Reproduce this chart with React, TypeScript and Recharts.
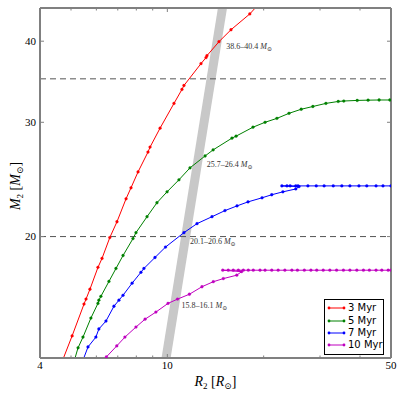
import React from 'react';
import {
  LineChart,
  Line,
  XAxis,
  YAxis,
  ReferenceLine,
  ReferenceDot,
  Legend,
  Label,
} from 'recharts';

// axis ticks
const xTicks = [4, 5, 6, 7, 8, 9, 10, 20, 30, 40, 50];
const xTickLabels = [4, 10, 50];
const yTicks = [20, 30, 40];
const dashedLevels = [20, 35];

// 3 Myr
const red3R = [4.62, 5.04, 5.49, 5.57, 5.73, 6.07, 6.25, 6.61, 6.96, 7.43, 7.7, 8.1, 8.7, 8.83, 9.49, 10.49, 11.11, 11.27, 12.74, 13.21, 13.3, 14.5, 15.81, 18.1, 19.6];
const red3M = [12.6, 14.06, 15.74, 16.02, 16.59, 17.93, 18.51, 19.93, 21.08, 22.87, 23.78, 25.16, 26.99, 27.47, 29.38, 32.08, 33.71, 34.18, 36.94, 37.74, 38.0, 39.93, 41.66, 44.06, 46.0];

// 5 Myr
const green5R = [5.1, 5.26, 5.45, 5.77, 6.07, 6.11, 6.2, 6.57, 6.91, 7.27, 7.81, 7.98, 8.64, 9.28, 9.98, 10.87, 11.77, 13.12, 13.9, 15.92, 16.4, 18.52, 20.2, 22.0, 24.0, 26.2, 28.5, 31.3, 34.2, 35.6, 39.2, 42.4, 45.9, 49.6];
const green5M = [12.8, 13.48, 14.0, 14.98, 15.78, 15.96, 16.18, 17.06, 17.86, 18.7, 19.86, 20.28, 21.46, 22.55, 23.44, 24.46, 25.52, 26.62, 27.2, 28.36, 28.56, 29.48, 30.0, 30.42, 30.97, 31.42, 31.73, 32.08, 32.3, 32.35, 32.42, 32.45, 32.47, 32.47];

// 7 Myr
const blue7R = [5.45, 5.65, 5.98, 6.11, 6.43, 6.81, 7.06, 7.27, 7.76, 8.27, 8.45, 9.15, 9.87, 11.27, 12.38, 13.79, 15.14, 16.51, 17.87, 19.77, 21.2, 22.97, 25.2, 25.8, 22.8, 23.65, 24.2, 25.2, 25.6, 27.5, 29.2, 30.9, 33.0, 35.1, 37.2, 39.7, 42.0, 44.9, 47.2, 50.0];
const blue7M = [12.9, 13.52, 14.0, 14.41, 14.82, 15.62, 15.96, 16.24, 16.95, 17.62, 17.86, 18.57, 19.27, 20.28, 20.94, 21.46, 21.93, 22.3, 22.62, 22.95, 23.2, 23.44, 23.68, 23.88, 23.94, 23.94, 23.94, 23.94, 23.94, 23.94, 23.94, 23.94, 23.94, 23.94, 23.94, 23.94, 23.94, 23.94, 23.94, 23.94];

// 10 Myr
const mag10R = [6.45, 6.95, 7.37, 7.98, 8.52, 9.21, 10.05, 10.76, 11.72, 12.83, 13.92, 14.96, 16.48, 17.06, 14.9, 15.5, 16.07, 16.67, 17.28, 17.91, 18.56, 19.48, 20.2, 21.2, 22.2, 23.3, 24.5, 25.5, 26.8, 28.1, 29.3, 30.7, 32.2, 33.8, 35.5, 37.2, 39.1, 41.0, 42.8, 44.9, 46.8, 49.0, 50.0];
const mag10M = [13.05, 13.57, 14.0, 14.51, 14.92, 15.3, 15.78, 16.02, 16.3, 16.74, 17.04, 17.23, 17.44, 17.66, 17.75, 17.75, 17.75, 17.75, 17.75, 17.75, 17.75, 17.75, 17.75, 17.75, 17.75, 17.75, 17.75, 17.75, 17.75, 17.75, 17.75, 17.75, 17.75, 17.75, 17.75, 17.75, 17.75, 17.75, 17.75, 17.75, 17.75, 17.75, 17.75];

// grey band
const bandR = [9.91, 14.87];
const bandM = [13, 45];

// mass range notes
const noteR = [15.3, 13.3, 11.77, 11.09];
const noteM = [38.9, 25.56, 19.44, 15.54];
const noteText = ['38.6–40.4', '25.7–26.4', '20.1–20.6', '15.8–16.1'];

const zip = (rs: number[], ms: number[]) => rs.map((r, i) => ({ r, m: ms[i] }));

const series = [
  { name: '3 Myr', color: '#ff0000', data: zip(red3R, red3M) },
  { name: '5 Myr', color: '#008000', data: zip(green5R, green5M) },
  { name: '7 Myr', color: '#0000ff', data: zip(blue7R, blue7M) },
  { name: '10 Myr', color: '#bf00bf', data: zip(mag10R, mag10M) },
];

const FRAME = '#808080';
const serif = '"Liberation Serif", "DejaVu Serif", serif';

const BottomTick = ({ x, y, payload }: any) => {
  const major = xTickLabels.includes(payload.value);
  return (
    <g>
      <line x1={x} x2={x} y1={y} y2={y - (major ? 4 : 2.5)} stroke={FRAME} />
      {major && (
        <text x={x} y={y + 11} textAnchor="middle" fontFamily={serif} fontSize={11} fill="#000">
          {payload.value}
        </text>
      )}
    </g>
  );
};

// top axis box is 1px tall, so its edge sits at y + 1
const TopTick = ({ x, y, payload }: any) => {
  const major = xTickLabels.includes(payload.value);
  return <line x1={x} x2={x} y1={y} y2={y + (major ? 4 : 2.5)} stroke={FRAME} />;
};

const LeftTick = ({ x, y, payload }: any) => (
  <g>
    <line x1={x} x2={x + 4} y1={y} y2={y} stroke={FRAME} />
    <text x={x - 4} y={y + 3.5} textAnchor="end" fontFamily={serif} fontSize={11} fill="#000">
      {payload.value}
    </text>
  </g>
);

const RightTick = ({ x, y }: any) => <line x1={x} x2={x - 4} y1={y} y2={y} stroke={FRAME} />;

const XTitle = ({ viewBox }: any) => (
  <text x={viewBox.x + viewBox.width / 2} y={viewBox.y + 28} textAnchor="middle" fontFamily={serif} fontSize={14} fill="#000">
    <tspan fontStyle="italic">R</tspan>
    <tspan fontSize={9} dy={3}>2</tspan>
    <tspan dy={-3}> [</tspan>
    <tspan fontStyle="italic">R</tspan>
    <tspan fontSize={9} dy={3}>⊙</tspan>
    <tspan dy={-3}>]</tspan>
  </text>
);

const YTitle = () => (
  <text x={20} y={186} transform="rotate(-90, 20, 186)" textAnchor="middle" fontFamily={serif} fontSize={14} fill="#000">
    <tspan fontStyle="italic">M</tspan>
    <tspan fontSize={9} dy={3}>2</tspan>
    <tspan dy={-3}> [</tspan>
    <tspan fontStyle="italic">M</tspan>
    <tspan fontSize={9} dy={3}>⊙</tspan>
    <tspan dy={-3}>]</tspan>
  </text>
);

const noteLabel = (text: string) => ({ viewBox }: any) => (
  <text x={viewBox.x} y={viewBox.y} fontFamily={serif} fontSize={8} fill="#333">
    <tspan>{text} </tspan>
    <tspan fontStyle="italic">M</tspan>
    <tspan fontSize={6} dy={2}>⊙</tspan>
  </text>
);

const LegendBox = () => (
  <div
    style={{
      width: 60,
      height: 56,
      boxSizing: 'border-box',
      border: '1px solid #000',
      background: '#fff',
      padding: '2px 0 0 0',
      fontFamily: '"DejaVu Sans", sans-serif',
      fontSize: 10,
      color: '#000',
    }}
  >
    {series.map((s) => (
      <div key={s.name} style={{ display: 'flex', alignItems: 'center', height: 12.4 }}>
        <svg width={22} height={8} style={{ flex: 'none' }}>
          <line x1={4} x2={19} y1={4} y2={4} stroke={s.color} />
          <circle cx={4} cy={4} r={1.4} fill={s.color} />
          <circle cx={19} cy={4} r={1.4} fill={s.color} />
        </svg>
        <span style={{ marginLeft: 1, lineHeight: '12px' }}>{s.name}</span>
      </div>
    ))}
  </div>
);

export default function App() {
  return (
    <div style={{ position: 'absolute', left: 0, top: 0, width: 399, height: 399, background: '#fff', overflow: 'hidden' }}>
      <LineChart width={399} height={399} margin={{ top: 7, right: 7, left: 0, bottom: 0 }}>
        <XAxis
          xAxisId="b"
          dataKey="r"
          type="number"
          scale="log"
          domain={[4, 50]}
          allowDataOverflow
          ticks={xTicks}
          interval={0}
          height={41}
          tickSize={0}
          tickMargin={0}
          tickLine={false}
          tick={(p: any) => <BottomTick {...p} />}
          axisLine={{ stroke: FRAME, strokeWidth: 2 }}
        >
          <Label content={XTitle} />
        </XAxis>
        <XAxis
          xAxisId="t"
          orientation="top"
          dataKey="r"
          type="number"
          scale="log"
          domain={[4, 50]}
          allowDataOverflow
          ticks={xTicks}
          interval={0}
          height={1}
          tickSize={0}
          tickMargin={0}
          tickLine={false}
          tick={(p: any) => <TopTick {...p} />}
          axisLine={{ stroke: FRAME, strokeWidth: 2 }}
        />
        <YAxis
          yAxisId="l"
          dataKey="m"
          type="number"
          scale="log"
          domain={[13, 45]}
          allowDataOverflow
          ticks={yTicks}
          interval={0}
          width={40}
          tickSize={0}
          tickMargin={0}
          tickLine={false}
          tick={(p: any) => <LeftTick {...p} />}
          axisLine={{ stroke: FRAME, strokeWidth: 2 }}
        >
          <Label content={YTitle} />
        </YAxis>
        <YAxis
          yAxisId="r"
          orientation="right"
          dataKey="m"
          type="number"
          scale="log"
          domain={[13, 45]}
          allowDataOverflow
          ticks={yTicks}
          interval={0}
          width={1}
          tickSize={0}
          tickMargin={0}
          tickLine={false}
          tick={(p: any) => <RightTick {...p} />}
          axisLine={{ stroke: FRAME, strokeWidth: 2 }}
        />

        <Line
          xAxisId="b"
          yAxisId="l"
          data={zip(bandR, bandM)}
          dataKey="m"
          stroke="#c8c8c8"
          strokeWidth={9}
          dot={false}
          activeDot={false}
          legendType="none"
          isAnimationActive={false}
        />

        {dashedLevels.map((lv) => (
          <ReferenceLine key={lv} xAxisId="b" yAxisId="l" y={lv} stroke="#555" strokeDasharray="6 4" />
        ))}

        {series.map((s) => (
          <Line
            key={s.name}
            xAxisId="b"
            yAxisId="l"
            name={s.name}
            data={s.data}
            dataKey="m"
            stroke={s.color}
            strokeWidth={1}
            dot={{ r: 1.4, fill: s.color, stroke: s.color, strokeWidth: 0.3 }}
            activeDot={false}
            isAnimationActive={false}
          />
        ))}

        {noteText.map((t, i) => (
          <ReferenceDot
            key={t}
            xAxisId="b"
            yAxisId="l"
            x={noteR[i]}
            y={noteM[i]}
            r={0.1}
            fill="none"
            stroke="none"
            label={noteLabel(t)}
          />
        ))}

        <Legend
          layout="vertical"
          align="center"
          verticalAlign="middle"
          width={60}
          height={56}
          wrapperStyle={{ left: 324, top: 299, width: 60, height: 56 }}
          content={LegendBox}
        />
      </LineChart>
    </div>
  );
}
